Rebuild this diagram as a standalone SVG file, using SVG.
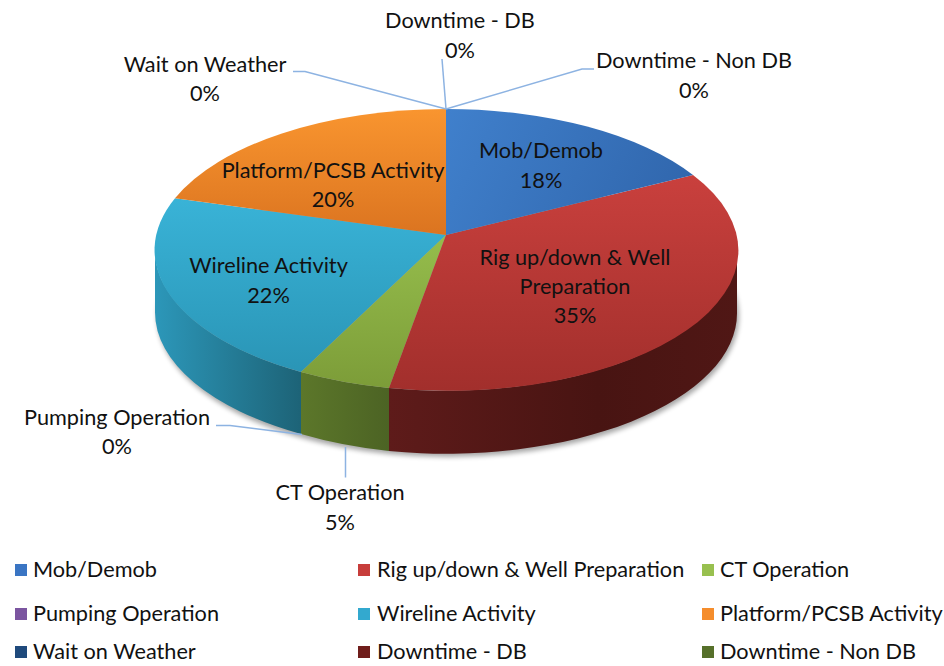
<svg xmlns="http://www.w3.org/2000/svg" width="944" height="666" viewBox="0 0 944 666">
  <style>
    text { font-family: Lato, "Liberation Sans", sans-serif; font-size: 21.7px; fill: #111; }
    .mid { text-anchor: middle; }
    .leader { fill: none; stroke: #8db3e2; stroke-width: 1.5; }
  </style>
  <defs>
    <filter id="soft" x="-10%" y="-10%" width="120%" height="130%">
      <feGaussianBlur stdDeviation="2.5"/>
    </filter>
    <!-- top faces -->
    <linearGradient id="gMob" gradientUnits="userSpaceOnUse" x1="446" y1="109" x2="693" y2="235">
      <stop offset="0" stop-color="#4080cc"/>
      <stop offset="1" stop-color="#2f64aa"/>
    </linearGradient>
    <linearGradient id="gRig" gradientUnits="userSpaceOnUse" x1="0" y1="175" x2="0" y2="390">
      <stop offset="0" stop-color="#c9403d"/>
      <stop offset="1" stop-color="#a22f2c"/>
    </linearGradient>
    <linearGradient id="gCT" gradientUnits="userSpaceOnUse" x1="0" y1="235" x2="0" y2="390">
      <stop offset="0" stop-color="#95bd4c"/>
      <stop offset="1" stop-color="#7c9c38"/>
    </linearGradient>
    <linearGradient id="gWire" gradientUnits="userSpaceOnUse" x1="0" y1="198" x2="0" y2="372">
      <stop offset="0" stop-color="#39b3d7"/>
      <stop offset="1" stop-color="#2a95b6"/>
    </linearGradient>
    <linearGradient id="gPlat" gradientUnits="userSpaceOnUse" x1="0" y1="109" x2="0" y2="235">
      <stop offset="0" stop-color="#f9952f"/>
      <stop offset="1" stop-color="#db7420"/>
    </linearGradient>
    <!-- side walls -->
    <linearGradient id="sWire" gradientUnits="userSpaceOnUse" x1="155" y1="0" x2="301" y2="0">
      <stop offset="0" stop-color="#2c97b9"/>
      <stop offset="1" stop-color="#1d6377"/>
    </linearGradient>
    <linearGradient id="sCT" gradientUnits="userSpaceOnUse" x1="301" y1="0" x2="389" y2="0">
      <stop offset="0" stop-color="#5c772a"/>
      <stop offset="1" stop-color="#4c6324"/>
    </linearGradient>
    <linearGradient id="sRig" gradientUnits="userSpaceOnUse" x1="389" y1="0" x2="737" y2="0">
      <stop offset="0" stop-color="#5e1b1a"/>
      <stop offset="0.6" stop-color="#481412"/>
      <stop offset="1" stop-color="#501715"/>
    </linearGradient>
  </defs>

  <!-- shadow under the disc -->
  <ellipse cx="448" cy="316" rx="291" ry="141" fill="#000" opacity="0.35" filter="url(#soft)"/>

  <!-- pie wedges -->
  <g id="slices">
    <g id="slice-wireline">
      <path d="M155 249.5 A291 140.5 0 0 0 301 372 L301 434 A291 140.5 0 0 1 155 312 Z" fill="url(#sWire)"/>
      <path d="M446 235 L301 372 A291 140.5 0 0 1 175 198.3 Z" fill="url(#gWire)"/>
    </g>
    <g id="slice-ct">
      <path d="M301 372 A291 140.5 0 0 0 389 388 L389 451 A291 140.5 0 0 1 301 434 Z" fill="url(#sCT)"/>
      <path d="M446 235 L389 388 A291 140.5 0 0 1 301 372 Z" fill="url(#gCT)"/>
    </g>
    <g id="slice-rig">
      <path d="M389 388 A291 140.5 0 0 0 737 249.5 L737 312.5 A291 140.5 0 0 1 389 451 Z" fill="url(#sRig)"/>
      <path d="M446 235 L693 175 A291 140.5 0 0 1 389 388 Z" fill="url(#gRig)"/>
    </g>
    <g id="slice-platform">
      <path d="M446 235 L175 198.3 A291 140.5 0 0 1 446 109 Z" fill="url(#gPlat)"/>
    </g>
    <g id="slice-mob">
      <path d="M446 235 L446 109 A291 140.5 0 0 1 693 175 Z" fill="url(#gMob)"/>
    </g>
  </g>

  <!-- leader lines for the empty categories -->
  <g id="leaders">
    <polyline class="leader" points="293,71.5 305,71.5 446,109"/>
    <polyline class="leader" points="442,59 446,109"/>
    <polyline class="leader" points="446,109 582,69 594,69"/>
    <polyline class="leader" points="216,425.5 230,425.5 302,434.5"/>
    <polyline class="leader" points="345.5,447 345.5,477.5"/>
  </g>

  <!-- data labels -->
  <g id="labels">
    <g id="lbl-db"><text class="mid" x="460" y="28">Downtime - DB</text><text class="mid" x="460" y="58">0%</text></g>
    <g id="lbl-weather"><text class="mid" x="205" y="72">Wait on Weather</text><text class="mid" x="205" y="101">0%</text></g>
    <g id="lbl-nondb"><text class="mid" x="694" y="68">Downtime - Non DB</text><text class="mid" x="694" y="98">0%</text></g>
    <g id="lbl-mob"><text class="mid" x="541" y="158">Mob/Demob</text><text class="mid" x="541" y="188">18%</text></g>
    <g id="lbl-platform"><text class="mid" x="333" y="178">Platform/PCSB Activity</text><text class="mid" x="333" y="207">20%</text></g>
    <g id="lbl-wireline"><text class="mid" x="268.5" y="273">Wireline Activity</text><text class="mid" x="268.5" y="303">22%</text></g>
    <g id="lbl-rig"><text class="mid" x="575" y="265">Rig up/down &amp; Well</text><text class="mid" x="575" y="294">Preparation</text><text class="mid" x="575" y="323">35%</text></g>
    <g id="lbl-pumping"><text class="mid" x="117" y="425">Pumping Operation</text><text class="mid" x="117" y="454">0%</text></g>
    <g id="lbl-ct"><text class="mid" x="340" y="500">CT Operation</text><text class="mid" x="340" y="530">5%</text></g>
  </g>

  <!-- legend -->
  <g id="legend">
    <rect x="15" y="564" width="12" height="12" fill="#3a75c3"/><text x="33" y="577">Mob/Demob</text>
    <rect x="358" y="564" width="12" height="12" fill="#c73d3b"/><text x="377" y="577">Rig up/down &amp; Well Preparation</text>
    <rect x="702" y="564" width="12" height="12" fill="#98c04f"/><text x="720" y="577">CT Operation</text>
    <rect x="15" y="608" width="12" height="12" fill="#7b55a0"/><text x="33" y="621">Pumping Operation</text>
    <rect x="358" y="608" width="12" height="12" fill="#33a9cf"/><text x="377" y="621">Wireline Activity</text>
    <rect x="702" y="608" width="12" height="12" fill="#f58d2c"/><text x="720" y="621">Platform/PCSB Activity</text>
    <rect x="15" y="646" width="12" height="12" fill="#1f4a7c"/><text x="33" y="659">Wait on Weather</text>
    <rect x="358" y="646" width="12" height="12" fill="#6f1d1b"/><text x="377" y="659">Downtime - DB</text>
    <rect x="702" y="646" width="12" height="12" fill="#56702a"/><text x="720" y="659">Downtime - Non DB</text>
  </g>
</svg>
